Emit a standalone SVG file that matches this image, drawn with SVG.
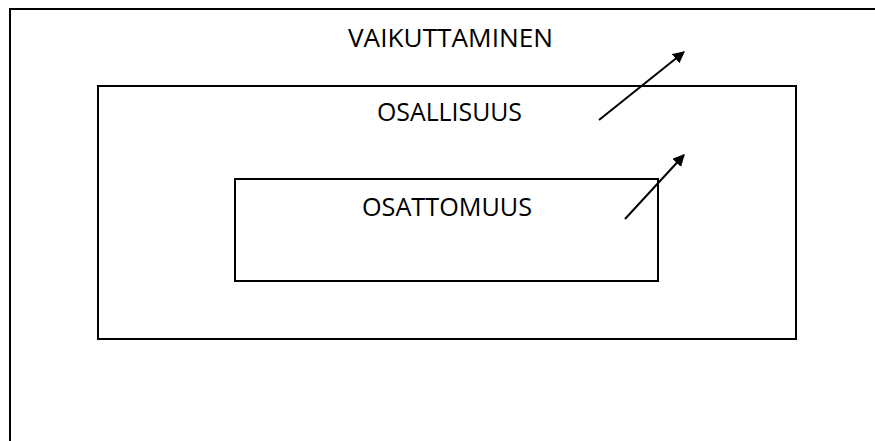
<svg xmlns="http://www.w3.org/2000/svg" width="875" height="441" viewBox="0 0 875 441">
<style>
.box{fill:none;stroke:#000;stroke-width:2}
.lbl{font-family:"Open Sans","Noto Sans","Liberation Sans",sans-serif;font-size:26px;fill:#000;text-anchor:start}
.arr{stroke:#000;stroke-width:2;fill:none;marker-end:url(#ah)}
</style>
<defs>
<marker id="ah" viewBox="0 0 10 10" refX="9" refY="5" markerWidth="6" markerHeight="6" orient="auto" markerUnits="strokeWidth">
<path d="M0,0 L10,5 L0,10 z" fill="#000"/>
</marker>
</defs>
<rect width="875" height="441" fill="#fff"/>
<g id="vaikuttaminen">
<rect class="box" x="10" y="9" width="900" height="500"/>
<text class="lbl" x="348" y="47" textLength="205" lengthAdjust="spacingAndGlyphs">VAIKUTTAMINEN</text>
</g>
<g id="osallisuus">
<rect class="box" x="98" y="86" width="698" height="253"/>
<text class="lbl" x="377" y="121" textLength="145" lengthAdjust="spacingAndGlyphs">OSALLISUUS</text>
</g>
<g id="osattomuus">
<rect class="box" x="235" y="179" width="423" height="102"/>
<text class="lbl" x="362" y="216" textLength="170" lengthAdjust="spacingAndGlyphs">OSATTOMUUS</text>
</g>
<g id="connectors">
<line class="arr" x1="599" y1="120" x2="684" y2="52"/>
<line class="arr" x1="625" y1="219" x2="684" y2="155"/>
</g>
</svg>
